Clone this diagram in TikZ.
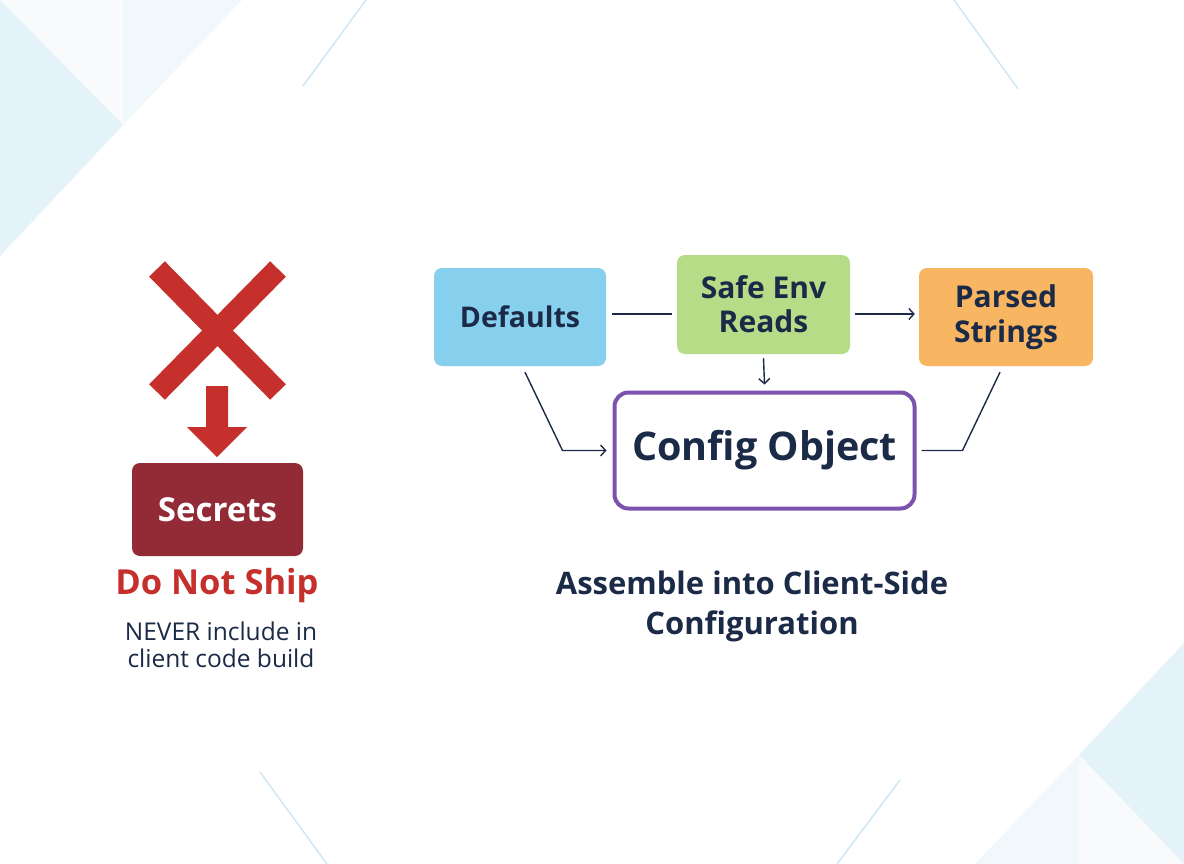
\documentclass[tikz,border=0pt]{standalone}
\usepackage{fontspec}
\setmainfont{Open Sans}
\usetikzlibrary{arrows.meta}
\definecolor{navy}{HTML}{1B2A47}
\definecolor{xred}{HTML}{C6302C}
\definecolor{secred}{HTML}{922B36}
\definecolor{cblue}{HTML}{86D0EE}
\definecolor{cgreen}{HTML}{B6DC88}
\definecolor{corange}{HTML}{F8B562}
\definecolor{cpurple}{HTML}{7B52AE}
\definecolor{bgA}{HTML}{E4F2FA}
\definecolor{bgB}{HTML}{F1F8FC}
\definecolor{bgC}{HTML}{F8FAFC}
\definecolor{bgline}{HTML}{CFE8F6}
\tikzset{
  box/.style={rounded corners=8pt, inner sep=0pt, align=center, text=navy, font=\bfseries\fontsize{28.5}{33}\selectfont},
  conn/.style={draw=navy, line width=1.4pt},
  tip/.style={-{Straight Barb[length=5pt,width=11pt,line width=1.4pt]}},
  bgl/.style={draw=bgline, line width=1.5pt}
}
\begin{document}
\begin{tikzpicture}[x=1pt,y=-1pt]
\useasboundingbox (0,0) rectangle (1184,864);
\fill[white] (0,0) rectangle (1184,864);
% background decorations
\fill[bgC] (0,0) -- (123,0) -- (123,125) -- cycle;
\fill[bgA] (0,0) -- (123,125) -- (0,256) -- cycle;
\fill[bgB] (123,0) -- (123,125) -- (242,0) -- cycle;
\fill[bgA] (1184,643) -- (1079,755) -- (1184,864) -- cycle;
\fill[bgB] (1079,755) -- (1079,864) -- (975,864) -- cycle;
\fill[bgC] (1079,755) -- (1184,864) -- (1079,864) -- cycle;
\draw[bgl] (303,86) -- (366,0);
\draw[bgl] (954,0) -- (1018,89);
\draw[bgl] (260,772) -- (327,864);
\draw[bgl] (900,780) -- (837,864);
% left: X and arrow
\draw[xred, line width=22pt] (157,269) -- (278,392);
\draw[xred, line width=22pt] (278,269) -- (157,392);
\fill[xred] (206,386) -- (228,386) -- (228,427) -- (247,427) -- (217,457) -- (187,427) -- (206,427) -- cycle;
\node[box, fill=secred, text=white, minimum width=171pt, minimum height=93pt, font=\bfseries\fontsize{33}{38}\selectfont] (sec) at (217.5,509.5) {Secrets};
\node[text=xred, font=\bfseries\fontsize{34.5}{40}\selectfont, inner sep=0pt] (dns) at (217,586) {Do Not Ship};
\node[text=navy, font=\fontsize{24.5}{27}\selectfont, align=center, inner sep=0pt] (never) at (221,645) {NEVER include in\\client code build};
% right: flow
\node[box, fill=cblue, minimum width=172pt, minimum height=98pt] (def) at (520,317) {Defaults};
\node[box, fill=cgreen, minimum width=173pt, minimum height=99pt, font=\bfseries\fontsize{30}{34}\selectfont] (safe) at (763.5,304.5) {Safe Env\\Reads};
\node[box, fill=corange, minimum width=174pt, minimum height=98pt, font=\bfseries\fontsize{30}{35}\selectfont] (par) at (1006,317) {Parsed\\Strings};
\node[box, draw=cpurple, line width=4pt, fill=white, rounded corners=14pt, minimum width=300pt, minimum height=116pt, font=\bfseries\fontsize{39.5}{44}\selectfont] (cfg) at (764.5,450.5) {Config Object};
\draw[conn] ([xshift=6pt,yshift=3pt]def.east) -- ([xshift=-5pt,yshift=3pt]def.east -| safe.west);
\draw[conn, tip] ([xshift=5pt,yshift=3pt]par.west -| safe.east) -- ([xshift=-4pt,yshift=3pt]par.west);
\draw[conn, tip] ([yshift=-4pt]safe.south) -- ([yshift=6pt]cfg.north);
\draw[conn, tip] ([xshift=5pt,yshift=-6pt]def.south) -- ([xshift=-50pt]cfg.west) -- ([xshift=-6pt]cfg.west);
\draw[conn] ([xshift=-6pt,yshift=-6pt]par.south) -- ([xshift=46pt]cfg.east) -- ([xshift=5pt]cfg.east);
\node[text=navy, font=\bfseries\fontsize{31}{40}\selectfont, align=center, inner sep=0pt] (cap) at (752,606) {Assemble into Client-Side\\Configuration};
\end{tikzpicture}
\end{document}
